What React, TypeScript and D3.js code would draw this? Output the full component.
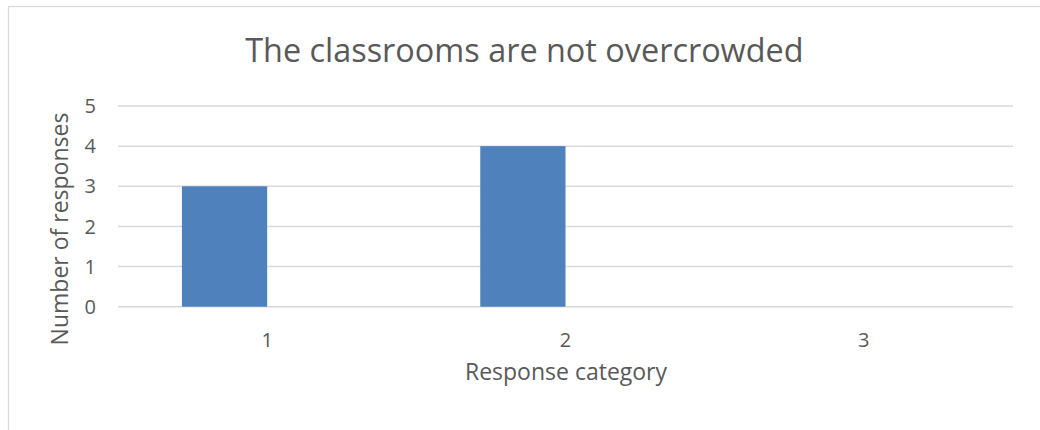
import React from "react";
import * as d3 from "d3";

const categories = ["1", "2", "3"];
const seriesNames = ["Series1", "Series2"];
const series1 = [3, 4, 0];
const series2 = [0, 0, 0];
const yTicks = [0, 1, 2, 3, 4, 5];
const title = "The classrooms are not overcrowded";
const xTitle = "Response category";
const yTitle = "Number of responses";

const W = 1040;
const H = 430;
const plot = { left: 118, right: 1013, top: 106, bottom: 306.7 };
const FONT = "'Open Sans', sans-serif";
const TEXT = "#595959";
const GRID = "#d9d9d9";
const BAR = "#4f81bd";

export default function App() {
  const x = d3.scaleBand<string>().domain(categories).range([plot.left, plot.right]).padding(0);
  const inner = d3
    .scaleBand<string>()
    .domain(seriesNames)
    .range([0, x.bandwidth()])
    .paddingInner(0)
    .paddingOuter(0.75);
  const y = d3.scaleLinear().domain([0, 5]).range([plot.bottom, plot.top]);
  const allSeries = [series1, series2];

  return (
    <div style={{ position: "absolute", left: 0, top: 0 }}>
      <svg width={W} height={H} style={{ display: "block" }}>
        <rect x={0} y={0} width={W} height={H} fill="#fff" />
        <rect x={8.5} y={6.5} width={W + 20} height={H + 20} fill="none" stroke={GRID} strokeWidth={1.3} />
        <text x={524.4} y={62} textAnchor="middle" fontFamily={FONT} fontSize={32.4} fill={TEXT}>
          {title}
        </text>
        {yTicks.map((t) => (
          <line key={t} x1={plot.left} x2={plot.right} y1={y(t)} y2={y(t)} stroke={GRID} strokeWidth={1.5} />
        ))}
        {yTicks.map((t) => (
          <text
            key={"l" + t}
            x={96}
            y={y(t)}
            dy="0.36em"
            textAnchor="end"
            fontFamily={FONT}
            fontSize={20}
            fill={TEXT}
          >
            {t}
          </text>
        ))}
        {allSeries.map((vals, si) =>
          categories.map((c, ci) => {
            const v = vals[ci];
            if (!v) return null;
            const bx = (x(c) as number) + (inner(seriesNames[si]) as number);
            return (
              <rect
                key={si + "-" + c}
                x={bx}
                y={y(v)}
                width={inner.bandwidth()}
                height={y(0) - y(v)}
                fill={BAR}
              />
            );
          })
        )}
        {categories.map((c) => (
          <text
            key={"c" + c}
            x={(x(c) as number) + x.bandwidth() / 2}
            y={347}
            textAnchor="middle"
            fontFamily={FONT}
            fontSize={20}
            fill={TEXT}
          >
            {c}
          </text>
        ))}
        <text x={566} y={379.5} textAnchor="middle" fontFamily={FONT} fontSize={23} fill={TEXT}>
          {xTitle}
        </text>
        <text
          transform={`translate(67.5, 229) rotate(-90)`}
          textAnchor="middle"
          fontFamily={FONT}
          fontSize={23}
          fill={TEXT}
        >
          {yTitle}
        </text>
      </svg>
    </div>
  );
}
